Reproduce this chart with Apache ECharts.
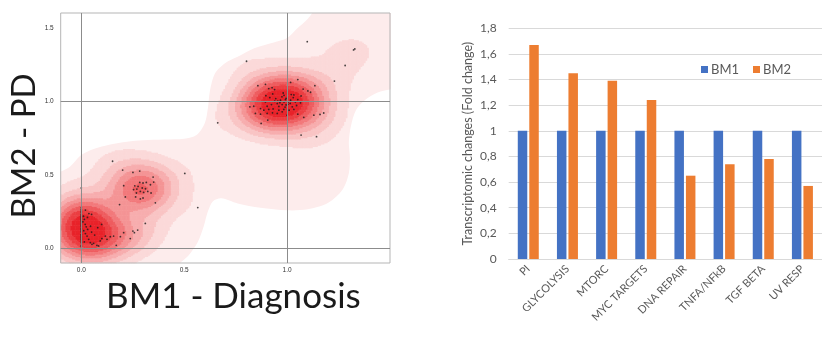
<!DOCTYPE html>
<html><head><meta charset="utf-8">
<script src="https://cdn.jsdelivr.net/npm/echarts@6/dist/echarts.min.js"></script>
<style>html,body{margin:0;padding:0;background:#fff}#c{width:822px;height:340px}</style>
</head><body><div id="c"></div>
<script>
// ---------- Left panel: BM1 (diagnosis) vs BM2 (PD) points ----------
const clusterHigh = [
[0.858,1.106],[0.895,1.115],[0.911,1.086],[0.927,1.092],[0.939,1.079],[0.981,1.056],[1.017,1.128],[1.052,1.147],
[1.078,1.083],[1.135,1.106],[1.033,1.043],[1.068,1.036],[1.101,1.070],[1.114,1.061],[0.897,1.038],[0.916,1.025],
[0.945,1.018],[0.968,1.007],[0.992,1.011],[1.017,1.007],[1.030,1.025],[1.052,1.011],[0.895,0.995],[0.903,0.966],
[0.924,0.977],[0.952,0.984],[0.976,0.977],[1.004,0.979],[1.025,0.962],[1.046,0.971],[1.065,0.989],[0.819,0.962],
[0.838,0.966],[0.871,0.950],[0.887,0.939],[0.911,0.944],[0.932,0.948],[0.960,0.939],[0.984,0.944],[1.010,0.939],
[1.033,0.944],[0.846,0.917],[0.871,0.912],[0.903,0.917],[0.929,0.921],[0.952,0.917],[0.976,0.928],[1.000,0.905],
[1.052,0.912],[1.081,0.890],[0.874,0.849],[0.906,0.872],[1.130,0.905],[1.178,0.920],[1.160,0.910],
[0.955,1.000],[0.965,0.990],[0.985,0.995],[0.995,1.020],[1.005,0.995],[1.015,0.985],[0.975,1.030],[0.940,1.000],
[0.960,0.965],[0.990,0.960],[1.020,1.045],[0.995,0.975],[0.985,1.040],[1.040,0.995],[0.930,1.050]
];
const clusterMid = [
[0.152,0.592],[0.201,0.532],[0.251,0.516],[0.284,0.525],[0.349,0.484],[0.352,0.450],[0.206,0.426],[0.284,0.448],
[0.300,0.444],[0.316,0.448],[0.336,0.432],[0.254,0.399],[0.270,0.403],[0.287,0.387],[0.303,0.380],[0.323,0.387],
[0.339,0.376],[0.268,0.376],[0.264,0.349],[0.287,0.336],[0.300,0.342],[0.214,0.349],[0.186,0.297],[0.360,0.309],
[0.276,0.421],[0.296,0.410],[0.312,0.405],[0.260,0.425]
];
const clusterLow = [
[0.000,0.410],[0.000,0.275],[0.000,0.252],[0.000,0.230],[0.000,0.214],[0.000,0.200],[0.000,0.184],[0.000,0.173],
[0.000,0.155],[0.000,0.146],[0.000,0.128],[0.000,0.110],[0.000,0.095],[0.000,0.079],[0.000,0.061],[0.000,0.038],
[0.000,0.011],[0.011,0.218],[0.015,0.196],[0.019,0.162],[0.024,0.146],[0.031,0.128],[0.037,0.236],[0.028,0.083],
[0.036,0.061],[0.044,0.038],[0.052,0.027],[0.060,0.034],[0.076,0.020],[0.084,0.016],[0.092,0.050],[0.100,0.066],
[0.117,0.083],[0.125,0.061],[0.141,0.079],[0.157,0.083],[0.170,0.020],[0.190,0.079],[0.206,0.106],[0.238,0.066],
[0.251,0.117],[0.258,0.106],[0.274,0.124],[0.311,0.169],[0.099,0.162],[0.015,0.043],[0.008,0.180],[0.012,0.120],
[0.020,0.100],[0.045,0.150],[0.050,0.110],[0.030,0.210],
[0.000,0.020],[0.000,0.050],[0.000,0.070],[0.000,0.088],[0.000,0.118],[0.000,0.136],[0.000,0.165],[0.000,0.192],
[0.000,0.207],[0.000,0.222],[0.000,0.242],[0.000,0.262],[0.050,0.230],[0.020,0.260],[0.065,0.090],[0.080,0.140]
];
const outliers = [
[0.503,0.509],[0.566,0.277],[0.663,0.853],[0.803,1.272],[1.098,1.405],[1.282,1.243],[1.323,1.349],[1.329,1.356],
[1.230,1.137],[1.068,0.770],[1.143,0.759]
];
// outer (lightest) density contour in data units
const envelopeOutline = [
[-0.15,0.50],[-0.099,0.522],[-0.054,0.556],[-0.005,0.630],[0.06,0.675],[0.141,0.705],[0.222,0.725],[0.30,0.735],
[0.40,0.74],[0.50,0.745],[0.56,0.77],[0.60,0.85],[0.615,0.95],[0.625,1.07],[0.65,1.19],[0.70,1.26],[0.757,1.30],
[0.84,1.36],[0.935,1.40],[1.0,1.43],[1.045,1.49],[1.10,1.56],[1.13,1.62],[1.13,1.66],[1.56,1.66],[1.56,1.09],
[1.5,1.08],[1.44,1.06],[1.38,1.01],[1.335,0.94],[1.31,0.83],[1.30,0.72],[1.305,0.62],[1.30,0.51],[1.27,0.40],
[1.20,0.31],[1.10,0.265],[1.0,0.258],[0.87,0.275],[0.76,0.305],[0.68,0.34],[0.64,0.32],[0.615,0.25],[0.595,0.15],
[0.565,0.04],[0.52,-0.05],[0.48,-0.10],[0.45,-0.15],[-0.15,-0.15]
];
const scatterTicks = [0, 0.5, 1.0, 1.5];

// ---------- Right panel: bar chart ----------
const categories = ['PI','GLYCOLYSIS','MTORC','MYC TARGETS','DNA REPAIR','TNFA/NFkB','TGF BETA','UV RESP'];
const bm1 = [1, 1, 1, 1, 1, 1, 1, 1];
const bm2 = [1.67, 1.45, 1.39, 1.24, 0.65, 0.74, 0.78, 0.57];

// ---------- density (KDE of the points) ----------
const allPts = clusterHigh.concat(clusterMid, clusterLow, outliers);
const X_MIN = -0.1, X_MAX = 1.5, Y_MIN = -0.1, Y_MAX = 1.6;
const NX = 200, NY = 200;
const HX = 0.095, HY = 0.095;
const dx = (X_MAX - X_MIN) / NX, dy = (Y_MAX - Y_MIN) / NY;
const dens = new Float64Array(NX * NY);
let dmax = 0;
for (let j = 0; j < NY; j++) {
  const cy = Y_MIN + (j + 0.5) * dy;
  for (let i = 0; i < NX; i++) {
    const cx = X_MIN + (i + 0.5) * dx;
    let s = 0;
    for (const p of allPts) {
      const a = (cx - p[0]) / HX, b = (cy - p[1]) / HY;
      s += Math.exp(-0.5 * (a * a + b * b));
    }
    dens[j * NX + i] = s;
    if (s > dmax) dmax = s;
  }
}
const levelFractions = [0.04, 0.10, 0.17, 0.25, 0.34, 0.44, 0.56, 0.70];
const envelopeColor = '#fdecec';
const bandColors = ['#fbd9d9','#f9c4c4','#f7adae','#f49495','#f2797b','#ee5c5f','#eb3f43','#e8232a'];
const pieces = levelFractions.map((f, k) => ({
  gte: f * dmax, lt: k === levelFractions.length - 1 ? Infinity : levelFractions[k + 1] * dmax, color: bandColors[k]
}));
const heat = [];
for (let j = 0; j < NY; j++) for (let i = 0; i < NX; i++) {
  const v = dens[j * NX + i];
  if (v >= levelFractions[0] * dmax) heat.push([i, j, v]);
}
const xCats = Array.from({length: NX}, (_, i) => i);
const yCats = Array.from({length: NY}, (_, j) => j);

const GL = {left: 60.7, top: 13, width: 329.3, height: 250};
const tickFmt = (isX) => v => {
  const r = Math.round(v * 10) / 10;
  if (isX && r >= 1.5) return '';
  return scatterTicks.some(t => Math.abs(t - r) < 1e-6) ? r.toFixed(1) : '';
};

const chart = echarts.init(document.getElementById('c'), null, {renderer: 'canvas'});
chart.setOption({
  animation: false,
  backgroundColor: '#fff',
  grid: [
    Object.assign({show: true, borderColor: '#b5b5b5', borderWidth: 1, backgroundColor: 'transparent', z: 5}, GL),
    Object.assign({}, GL),
    {left: 508.7, right: -7, top: 28.3, bottom: 81}
  ],
  xAxis: [
    {gridIndex: 0, type: 'value', min: X_MIN, max: X_MAX, interval: 0.1,
     axisLine: {show: false}, axisTick: {show: false}, splitLine: {show: false},
     axisLabel: {formatter: tickFmt(true), fontSize: 6.5, color: '#333', margin: 4, fontFamily: 'Liberation Sans'},
     name: 'BM1 - Diagnosis', nameLocation: 'middle', nameGap: 8,
     nameTextStyle: {fontSize: 35, color: '#1a1a1a', fontFamily: 'Lato', padding: [0, 0, 0, 16], verticalAlign: 'top'}},
    {gridIndex: 1, type: 'category', data: xCats, show: false, boundaryGap: true},
    {gridIndex: 2, type: 'category', data: categories,
     axisLine: {lineStyle: {color: '#d9d9d9'}}, axisTick: {show: false},
     axisLabel: {rotate: 45, fontSize: 11, color: '#595959', fontFamily: 'Lato', margin: 8, interval: 0}}
  ],
  yAxis: [
    {gridIndex: 0, type: 'value', min: Y_MIN, max: Y_MAX, interval: 0.1,
     axisLine: {show: false}, axisTick: {show: false}, splitLine: {show: false},
     axisLabel: {formatter: tickFmt(false), fontSize: 6.5, color: '#333', margin: 7, fontFamily: 'Liberation Sans'},
     name: 'BM2 - PD', nameLocation: 'middle', nameGap: 11, nameRotate: 90,
     nameTextStyle: {fontSize: 33, color: '#1a1a1a', fontFamily: 'Lato', padding: [0, 16, 0, 0]}},
    {gridIndex: 1, type: 'category', data: yCats, show: false, boundaryGap: true},
    {gridIndex: 2, type: 'value', min: 0, max: 1.8, interval: 0.2,
     axisLine: {show: false}, axisTick: {show: false},
     splitLine: {lineStyle: {color: '#d9d9d9'}},
     axisLabel: {fontSize: 12, color: '#595959', fontFamily: 'Lato', margin: 12,
       formatter: v => String(Math.round(v * 10) / 10).replace('.', ',')},
     name: 'Transcriptomic changes (Fold change)', nameLocation: 'middle', nameGap: 34, nameRotate: 90,
     nameTextStyle: {fontSize: 12.5, color: '#595959', fontFamily: 'Lato'}}
  ],
  visualMap: {show: false, type: 'piecewise', seriesIndex: 1, dimension: 2, pieces: pieces},
  legend: {data: ['BM1', 'BM2'], left: 701, top: 63, itemWidth: 7, itemHeight: 7, itemGap: 14, padding: 0,
    icon: 'rect', textStyle: {fontSize: 13, color: '#595959', fontFamily: 'Lato', padding: [0, 0, 0, -2]}},
  series: [
    {type: 'custom', xAxisIndex: 0, yAxisIndex: 0, data: [0], clip: true, z: 0, silent: true,
     renderItem: (params, api) => ({
       type: 'polygon',
       shape: {points: envelopeOutline.map(p => api.coord(p)), smooth: 0.3},
       style: {fill: envelopeColor}
     })},
    {type: 'heatmap', xAxisIndex: 1, yAxisIndex: 1, data: heat, progressive: 0, z: 1, silent: true},
    {type: 'scatter', xAxisIndex: 0, yAxisIndex: 0, data: allPts, symbolSize: 1.8, z: 3, silent: true,
     itemStyle: {color: '#1a1a1a'},
     markLine: {silent: true, symbol: 'none', label: {show: false}, animation: false,
       lineStyle: {color: '#8c8c8c', width: 1, type: 'solid'},
       data: [{xAxis: 0}, {xAxis: 1}, {yAxis: 0}, {yAxis: 1}]}},
    {name: 'BM1', type: 'bar', xAxisIndex: 2, yAxisIndex: 2, data: bm1, barWidth: 9.5, barGap: '21%',
     itemStyle: {color: '#4472C4'}},
    {name: 'BM2', type: 'bar', xAxisIndex: 2, yAxisIndex: 2, data: bm2, barWidth: 9.5, barGap: '21%',
     itemStyle: {color: '#ED7D31'}}
  ]
});
</script></body></html>
